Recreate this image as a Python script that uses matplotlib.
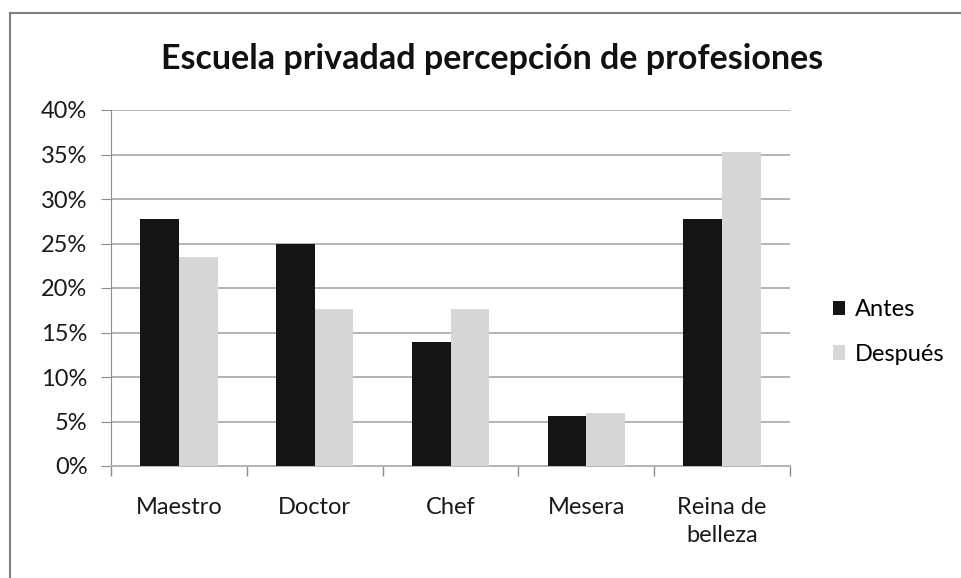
import matplotlib
matplotlib.use("Agg")
import matplotlib.pyplot as plt
import numpy as np
from matplotlib.lines import Line2D
from matplotlib.ticker import PercentFormatter

categories = ["Maestro", "Doctor", "Chef", "Mesera", "Reina de\nbelleza"]
antes = [27.8, 25.0, 13.9, 5.6, 27.8]
despues = [23.5, 17.6, 17.6, 5.9, 35.3]
series_names = ["Antes", "Después"]
yticks = [0, 5, 10, 15, 20, 25, 30, 35, 40]
title = "Escuela privadad percepción de profesiones"

plt.rcParams['font.family'] = ['Lato', 'DejaVu Sans']

W, H = 961, 578
fig = plt.figure(figsize=(W/100, H/100), dpi=100)
ax = fig.add_axes([111/W, 1-466/H, (790-111)/W, (466-110)/H])

x = np.arange(len(categories))
bw = 0.285
dark = "#141414"
light = "#d6d6d6"
ax.bar(x - bw/2, antes, bw, color=dark, label=series_names[0], zorder=3)
ax.bar(x + bw/2, despues, bw, color=light, label=series_names[1], zorder=3)

ax.set_xlim(-0.5, len(categories) - 0.5)
ax.set_ylim(0, 40)
ax.set_yticks(yticks)
ax.yaxis.set_major_formatter(PercentFormatter(decimals=0))
ax.grid(axis='y', color='#b3b3b3', linewidth=1.4, zorder=0)
ax.set_axisbelow(True)

for s in ['top', 'right']:
    ax.spines[s].set_visible(False)
ax.spines['left'].set_color('#8c8c8c')
ax.spines['bottom'].set_color('#b3b3b3')
ax.spines['bottom'].set_linewidth(1.4)

ax.set_xticks(x)
ax.set_xticklabels(categories, fontsize=17, color='#1a1a1a', linespacing=1.45, va='top')
ax.tick_params(axis='x', length=0, pad=22)
ax.set_xticks(np.arange(-0.5, len(categories)), minor=True)
ax.tick_params(axis='x', which='minor', length=7, color='#8c8c8c', width=1)
ax.tick_params(axis='y', length=7, color='#8c8c8c', labelsize=17, labelcolor='#1a1a1a', pad=10)

fig.text(492/W, 1-59/H, title, ha='center', va='center', fontsize=24.5, fontweight='bold', color='#111111')

leg = fig.legend(loc='center left', bbox_to_anchor=(833/W, 1-332/H), frameon=False,
                 fontsize=17, handlelength=0.5, handleheight=0.55, handletextpad=0.42,
                 labelspacing=1.0, borderpad=0, borderaxespad=0)

# chart border
fig.add_artist(Line2D([10/W, 10/W], [0, 1-12.5/H], color='#7f7f7f', linewidth=1.5))
fig.add_artist(Line2D([10/W, 1], [1-12.5/H, 1-12.5/H], color='#7f7f7f', linewidth=1.5))

fig.savefig("out.png", dpi=100)
